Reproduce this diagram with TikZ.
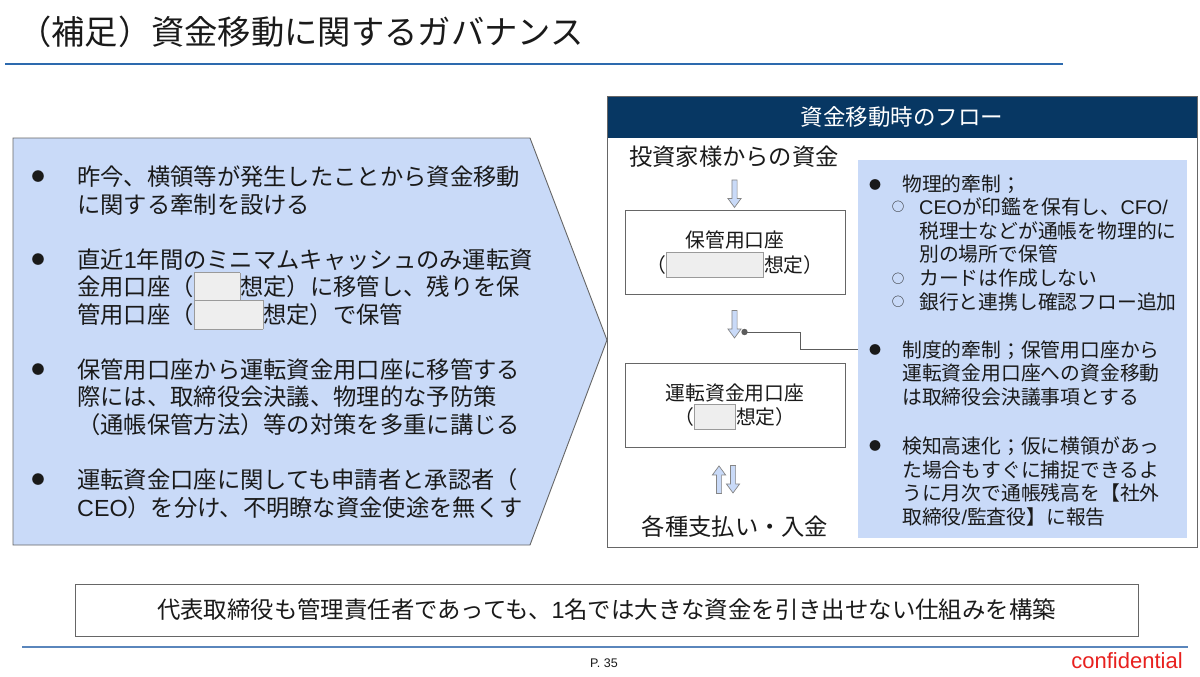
\documentclass[tikz,border=0pt]{standalone}
\usepackage{fontspec}
\setmainfont{Noto Sans CJK JP}
\newfontfamily\arialf{Liberation Sans}
\definecolor{paleblue}{HTML}{C9DAF8}
\definecolor{navy}{HTML}{073763}
\definecolor{framegray}{HTML}{666666}
\definecolor{redline}{HTML}{9A9A9A}
\definecolor{redfill}{HTML}{EEEEEE}
\definecolor{titleblue}{HTML}{2D6AAE}
\definecolor{footblue}{HTML}{5A86BC}
\definecolor{conred}{HTML}{E8201E}
\definecolor{txt}{HTML}{1A1A1A}
\newcommand\redact[1]{{\setlength\fboxsep{0pt}\setlength\fboxrule{0.8pt}\raisebox{-0.22em}[0pt][0pt]{\fcolorbox{redline}{redfill}{\rule{0pt}{1.2em}\rule{#1}{0pt}}}}}
\newcommand\lat[1]{{\arialf #1}}
\tikzset{
  ltext/.style={anchor=west, inner sep=0, align=left, text=txt, font=\fontsize{23.3}{27.7}\selectfont},
  rtext/.style={anchor=west, inner sep=0, align=left, text=txt, font=\fontsize{19.8}{23.5}\selectfont},
  bigbullet/.style={inner sep=0, text=txt, font=\fontsize{13}{15}\selectfont},
  smallbullet/.style={inner sep=0, text=txt, font=\fontsize{12}{14}\selectfont},
  subbullet/.style={inner sep=0, text=txt, font=\fontsize{12.5}{14}\selectfont},
  flowbox/.style={draw=framegray, line width=0.9pt, fill=white, minimum width=220pt, minimum height=84pt, inner sep=0, align=center, text=txt, font=\fontsize{19.8}{24.5}\selectfont},
  flowlabel/.style={inner sep=0, text=txt, font=\fontsize{23.3}{28}\selectfont},
  arrowshape/.style={fill=paleblue, draw=framegray!80, line width=0.7pt, line join=miter},
  conn/.style={draw=framegray!90!black, line width=0.9pt},
  blockarrow/.pic={
    \path[arrowshape] (-2.6,0) -- (-2.6,18.5) -- (-6.6,18.5) -- (0,27.5) -- (6.6,18.5) -- (2.6,18.5) -- (2.6,0) -- cycle;
  }
}
\begin{document}
\begin{tikzpicture}[x=1pt,y=-1pt]
\useasboundingbox (0,0) rectangle (1200,677);
\fill[white] (0,0) rectangle (1200,677);

% title
\node[anchor=west, inner sep=0, text=txt, font=\fontsize{33.3}{40}\selectfont] (title) at (18,32) {（補足）資金移動に関するガバナンス};
\draw[titleblue, line width=2pt] (5,64) -- (1063,64);

% left chevron
\draw[fill=paleblue, draw=framegray, line width=0.9pt, line join=miter] (13,138) -- (530,138) -- (607,340) -- (530,545) -- (13,545) -- cycle;

\node[bigbullet] (lb1) at (38,177) {●};
\node[ltext] (l1) at (77,190.9) {昨今、横領等が発生したことから資金移動\\に関する牽制を設ける};
\node[bigbullet] (lb2) at (38,259.5) {●};
\node[ltext] (l2) at (77,287.2) {直近\lat{1}年間のミニマムキャッシュのみ運転資\\金用口座（\redact{45pt}想定）に移管し、残りを保\\管用口座（\redact{68pt}想定）で保管};
\node[bigbullet] (lb3) at (38,369.5) {●};
\node[ltext] (l3) at (77,397.2) {保管用口座から運転資金用口座に移管する\\際には、取締役会決議、物理的な予防策\\（通帳保管方法）等の対策を多重に講じる};
\node[bigbullet] (lb4) at (38,479.8) {●};
\node[ltext] (l4) at (77,493.7) {運転資金口座に関しても申請者と承認者（\\\lat{CEO}）を分け、不明瞭な資金使途を無くす};

% right frame
\node[fill=navy, minimum width=590pt, minimum height=42pt, inner sep=0, text=white, font=\fontsize{22.5}{27}\selectfont] (hdr) at (902,117) {資金移動時のフロー};
\node[draw=framegray, line width=0.9pt, minimum width=590pt, minimum height=451pt, inner sep=0] (frame) at (902,321.5) {};

\node[flowlabel] (inv) at (734,157) {投資家様からの資金};
\node[flowbox] (hokan) at (735,252.5) {保管用口座\\（\redact{96pt}想定）};
\node[flowbox] (unten) at (735,405) {運転資金用口座\\（\redact{40pt}想定）};
\node[flowlabel] (pay) at (735,527) {各種支払い・入金};

\path (inv.south) ++(0.5,12) pic {blockarrow};
\path (hokan.south) ++(-0.5,15.5) pic {blockarrow};
\path (unten.south) ++(-16,46) pic[rotate=180] {blockarrow};
\path (unten.south) ++(-2,18) pic {blockarrow};

% right blue panel
\node[fill=paleblue, minimum width=329pt, minimum height=378pt, inner sep=0] (rpanel) at (1022.5,349) {};
\coordinate (dot) at (744.5,332);
\draw[conn] (dot) -- ++(55.5,0) |- (rpanel.west);
\fill[framegray!90!black] (dot) circle (3.2);

\node[smallbullet] (rb1) at (875,184.5) {●};
\node[rtext] (r1) at (902,184.5) {物理的牽制；};
\node[subbullet] (rs1) at (898,207) {○};
\node[rtext] (r1a) at (919,230.5) {\lat{CEO}が印鑑を保有し、\lat{CFO/}\\税理士などが通帳を物理的に\\別の場所で保管};
\node[subbullet] (rs2) at (898,278.5) {○};
\node[rtext] (r1b) at (919,278.5) {カードは作成しない};
\node[subbullet] (rs3) at (898,302) {○};
\node[rtext] (r1c) at (919,302) {銀行と連携し確認フロー追加};
\node[smallbullet] (rb2) at (875,350) {●};
\node[rtext] (r2) at (902,373.5) {制度的牽制；保管用口座から\\運転資金用口座への資金移動\\は取締役会決議事項とする};
\node[smallbullet] (rb3) at (875,446) {●};
\node[rtext] (r3) at (902,481.3) {検知高速化；仮に横領があっ\\た場合もすぐに捕捉できるよ\\うに月次で通帳残高を【社外\\取締役\lat{/}監査役】に報告};

% summary
\node[draw=framegray, line width=0.9pt, minimum width=1063pt, minimum height=52pt, inner sep=0, text=txt, font=\fontsize{23.4}{28}\selectfont] (summary) at (606.5,610) {代表取締役も管理責任者であっても、\lat{1}名では大きな資金を引き出せない仕組みを構築};

% footer
\draw[footblue, line width=2.6pt] (22,647) -- (1188,647);
\node[inner sep=0, text=txt, font=\arialf\fontsize{12.5}{15}\selectfont] (page) at (604,663) {P. 35};
\node[inner sep=0, text=conred, font=\arialf\fontsize{22}{26}\selectfont] (conf) at (1127,661) {confidential};
\end{tikzpicture}
\end{document}
